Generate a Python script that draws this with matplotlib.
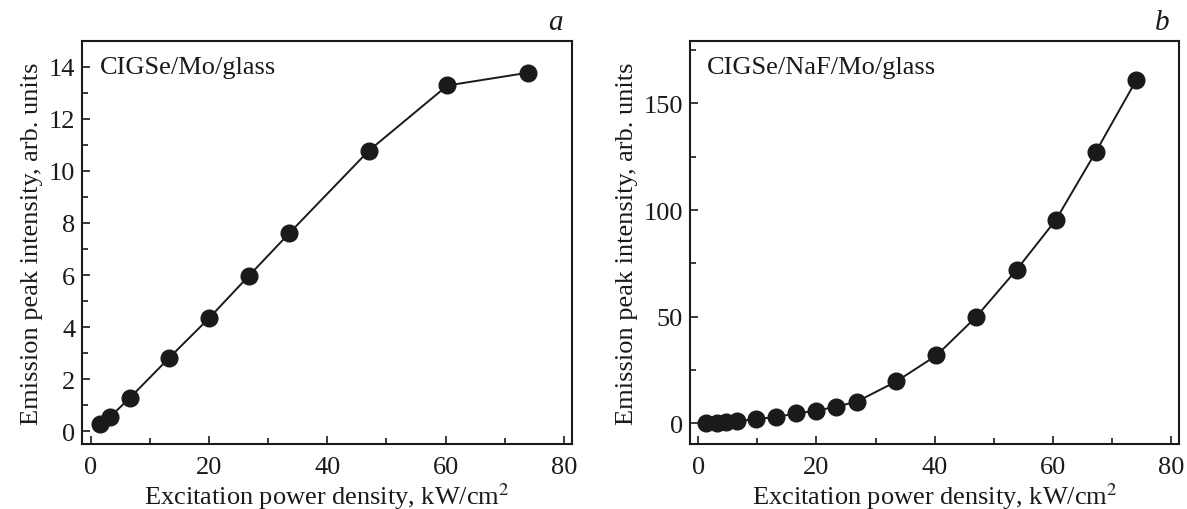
import matplotlib
matplotlib.use("Agg")
import matplotlib.pyplot as plt
from matplotlib.ticker import MultipleLocator

plt.rcParams["font.family"] = ["Liberation Serif", "DejaVu Serif"]
plt.rcParams["mathtext.fontset"] = "stix"

# panel a: CIGSe/Mo/glass
power_a = [1.6, 3.3, 6.6, 13.3, 20.1, 26.8, 33.6, 47.0, 60.3, 73.9]
intensity_a = [0.28, 0.55, 1.27, 2.82, 4.36, 5.98, 7.61, 10.77, 13.28, 13.77]

# panel b: CIGSe/NaF/Mo/glass
power_b = [1.3, 3.1, 4.7, 6.5, 9.7, 13.1, 16.5, 20.0, 23.3, 26.8,
           33.5, 40.3, 47.0, 53.9, 60.5, 67.3, 74.1]
intensity_b = [0.0, 0.2, 0.5, 0.9, 2.0, 2.9, 4.6, 5.9, 7.8, 10.1,
               19.6, 31.8, 49.8, 72.1, 95.3, 127.4, 160.8]

xlabel = "Excitation power density, kW/cm$^2$"
ylabel = "Emission peak intensity, arb. units"

fig = plt.figure(figsize=(11.87, 5.10), dpi=100)
ax_a = fig.add_axes([0.0693, 0.1275, 0.4128, 0.7907])
ax_b = fig.add_axes([0.5813, 0.1275, 0.4122, 0.7907])

panels = [
    (ax_a, power_a, intensity_a, "CIGSe/Mo/glass", "a", (-0.49, 15.0), 2, 1),
    (ax_b, power_b, intensity_b, "CIGSe/NaF/Mo/glass", "b", (-9.7, 179.4), 50, 25),
]
for ax, x, y, label, letter, ylim, ymaj, ymin in panels:
    ax.plot(x, y, "-", color="#1a1a1a", lw=1.4, marker="o", ms=12,
            mfc="#1a1a1a", mec="#1a1a1a")
    ax.set_xlim(-1.4, 81.4)
    ax.set_ylim(*ylim)
    ax.xaxis.set_major_locator(MultipleLocator(20))
    ax.xaxis.set_minor_locator(MultipleLocator(10))
    ax.yaxis.set_major_locator(MultipleLocator(ymaj))
    ax.yaxis.set_minor_locator(MultipleLocator(ymin))
    ax.tick_params(which="both", direction="in", top=False, right=False,
                   width=1.2, labelsize=19, pad=5, colors="#1a1a1a")
    ax.tick_params(axis="x", which="both", pad=9)
    ax.tick_params(which="major", length=5.5)
    ax.tick_params(which="minor", length=4)
    for sp in ax.spines.values():
        sp.set_linewidth(1.5)
        sp.set_color("#1a1a1a")
    ax.set_xlabel(xlabel, fontsize=19, labelpad=1, color="#1a1a1a")
    ax.set_ylabel(ylabel, fontsize=19, labelpad=4, color="#1a1a1a")
    ax.text(0.035, 0.935, label, transform=ax.transAxes, fontsize=19,
            va="center", ha="left", color="#1a1a1a")
    ax.text(0.965, 1.028, letter, transform=ax.transAxes, fontsize=21,
            style="italic", va="baseline", ha="center", color="#1a1a1a")

fig.savefig("out.png", dpi=100)
